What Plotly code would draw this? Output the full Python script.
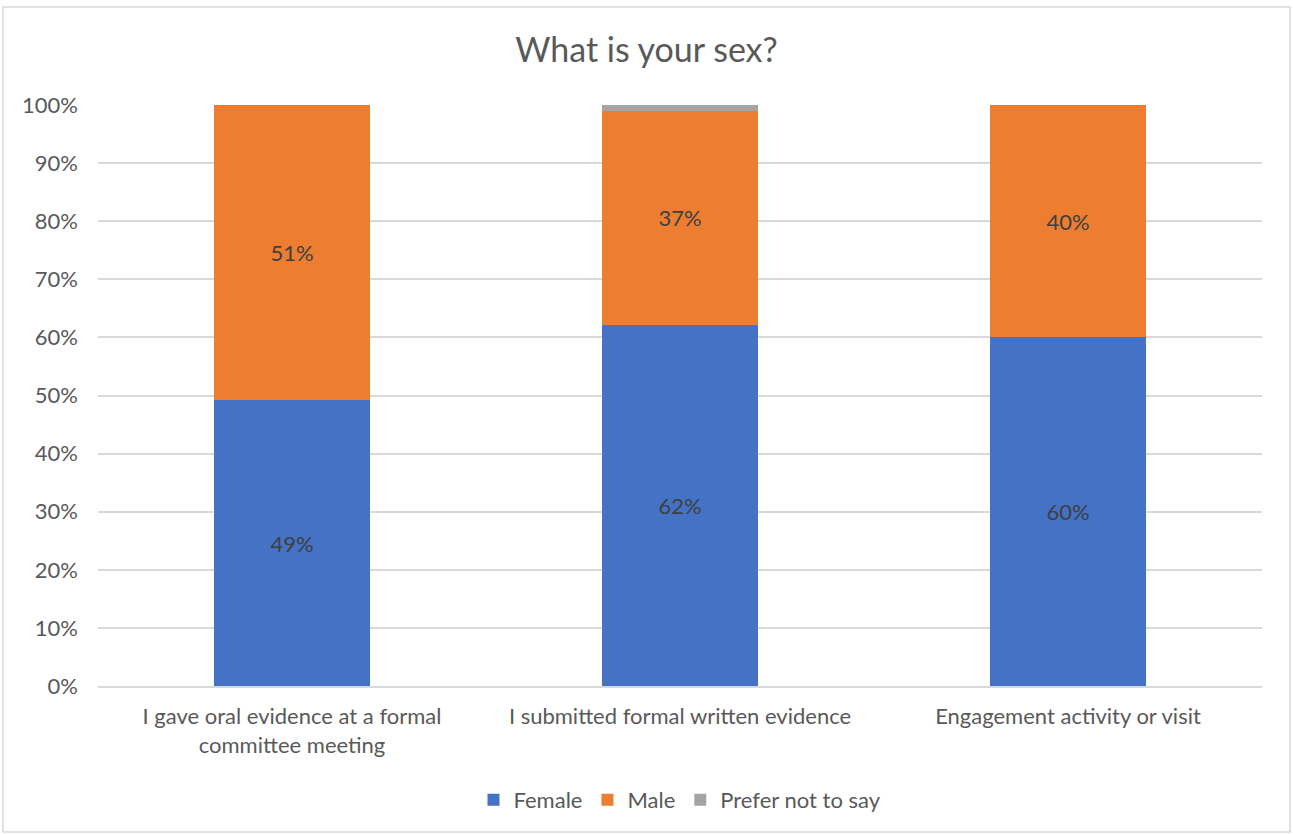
import plotly.graph_objects as go

categories = ["I gave oral evidence at a formal<br>committee meeting",
              "I submitted formal written evidence",
              "Engagement activity or visit"]
female = [0.492, 0.622, 0.60]
male = [0.508, 0.368, 0.40]
prefer_not = [0.0, 0.010, 0.0]
female_labels = ["49%", "62%", "60%"]
male_labels = ["51%", "37%", "40%"]
prefer_labels = ["", "", ""]

FONT = "Lato, Carlito, Calibri, sans-serif"

fig = go.Figure()
for name, vals, labels, color in [
    ("Female", female, female_labels, "#4472C4"),
    ("Male", male, male_labels, "#ED7D31"),
    ("Prefer not to say", prefer_not, prefer_labels, "#A5A5A5"),
]:
    fig.add_trace(go.Bar(
        x=categories, y=vals, name=name, marker_color=color,
        marker_line_width=0,
        text=labels, textposition="inside", insidetextanchor="middle",
        textfont=dict(color="#404040", size=22, family=FONT),
        hoverinfo="skip",
    ))

fig.update_layout(
    barmode="stack",
    bargap=0.6,
    width=1293, height=834,
    margin=dict(l=98, r=31, t=105, b=148),
    paper_bgcolor="white", plot_bgcolor="white",
    font=dict(family=FONT, color="#595959", size=22),
    title=dict(text="What is your sex?", x=0.5, xanchor="center",
               y=1 - 50 / 834, yanchor="middle",
               font=dict(size=34, color="#595959", family=FONT)),
    legend=dict(orientation="h", x=0.5, xanchor="center",
                y=(686 - 800) / 581, yanchor="middle",
                font=dict(size=22, color="#595959", family=FONT),
                traceorder="normal", itemwidth=30),
    uniformtext=dict(mode="show", minsize=10),
    showlegend=True,
)
fig.update_yaxes(range=[0, 1], tickvals=[i / 10 for i in range(11)],
                 tickformat=".0%", showgrid=True, gridcolor="#D9D9D9",
                 gridwidth=1.5, zeroline=False, showline=False, ticks="",
                 ticklabelstandoff=19, tickfont=dict(size=22, color="#595959"))
fig.update_xaxes(showline=True, linecolor="#D9D9D9", linewidth=1.5,
                 ticks="", tickfont=dict(size=22, color="#595959"),
                 ticklabelstandoff=10)

fig.add_shape(type="rect", xref="paper", yref="paper",
              x0=(3 - 98) / 1164, x1=(1290 - 98) / 1164,
              y0=(686 - 832) / 581, y1=(686 - 7) / 581,
              line=dict(color="#D9D9D9", width=1.5), layer="below")

fig.write_html("out.html",
               config={"displayModeBar": False},
               post_script="document.body.style.margin='0';document.body.style.overflow='hidden';")
